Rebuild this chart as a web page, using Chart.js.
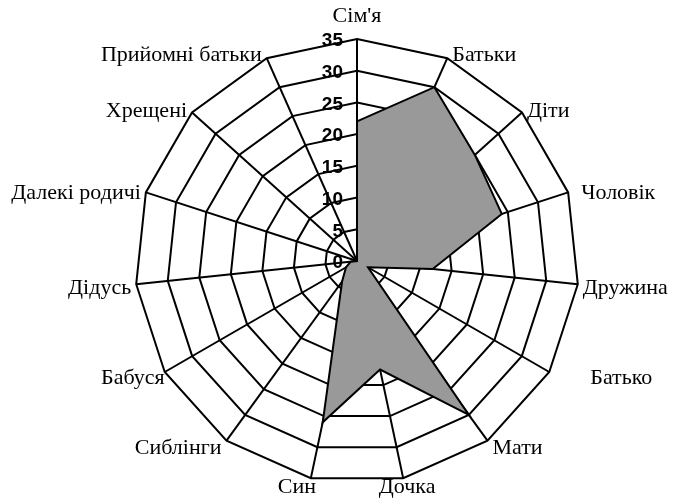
<!DOCTYPE html>
<html>
<head>
<meta charset="utf-8">
<script src="https://cdn.jsdelivr.net/npm/chart.js@4"></script>
<style>
  body { margin: 0; background: #fff; }
  #wrap { width: 676px; height: 499px; }
</style>
</head>
<body>
<div id="wrap"><canvas id="radarChart"></canvas></div>
<script>
var categories = ["Сім'я", "Батьки", "Діти", "Чоловік", "Дружина", "Батько", "Мати", "Дочка",
  "Син", "Сиблінги", "Бабуся", "Дідусь", "Далекі родичі", "Хрещені", "Прийомні батьки"];
var values = [22, 30, 25, 24, 12, 2, 30, 17.5, 26, 4, 2, 1, 0, 0, 0];
var tickValues = [0, 5, 10, 15, 20, 25, 30, 35];

// a few labels sit a bit off the plain rule in the original
var labelNudge = { 3: 8, 5: 36, 7: 4, 8: -14, 10: 5 };

// tick labels left of the top spoke, category labels placed Excel-style
var labelsPlugin = {
  id: "labelsPlugin",
  afterDatasetsDraw: function (chart) {
    var r = chart.scales.r;
    var ctx = chart.ctx;
    ctx.save();
    ctx.fillStyle = "#000";

    ctx.font = "bold 19px 'Liberation Sans', Arial, sans-serif";
    ctx.textAlign = "right";
    ctx.textBaseline = "middle";
    tickValues.forEach(function (v) {
      var p = r.getPointPositionForValue(0, v);
      ctx.fillText(String(v), p.x - 14, p.y + 2);
    });

    ctx.font = "22px 'Liberation Serif', 'Times New Roman', serif";
    ctx.textBaseline = "middle";
    categories.forEach(function (name, i) {
      var p = r.getPointPosition(i, r.drawingArea);
      var a = r.getIndexAngle(i);
      var s = Math.sin(a), c = Math.cos(a);
      var x = p.x, y = p.y + 3 - 6 * c;
      if (c > 0.99) {
        ctx.textAlign = "center";
        y = p.y - 23;
      } else if (Math.abs(s) < 0.25) {
        ctx.textAlign = "center";
      } else if (s > 0) {
        ctx.textAlign = "left";
        x += 5;
      } else {
        ctx.textAlign = "right";
        x -= 5;
      }
      x += labelNudge[i] || 0;
      ctx.fillText(name, x, y);
    });
    ctx.restore();
  }
};

var chart = new Chart(document.getElementById("radarChart"), {
  type: "radar",
  data: {
    labels: categories,
    datasets: [
      {
        data: values,
        backgroundColor: "#999999",
        borderColor: "#000",
        borderWidth: 2,
        pointRadius: 0,
        fill: true
      }
    ]
  },
  options: {
    responsive: true,
    maintainAspectRatio: false,
    animation: false,
    layout: { padding: { top: 39, bottom: 16, left: 38, right: 0 } },
    plugins: {
      legend: { display: false },
      tooltip: { enabled: false }
    },
    scales: {
      r: {
        min: 0,
        max: 35,
        ticks: { stepSize: 5, display: false },
        grid: { color: "#000", lineWidth: 2, circular: false },
        angleLines: { color: "#000", lineWidth: 2 },
        pointLabels: { display: false }
      }
    }
  },
  plugins: [labelsPlugin]
});
</script>
</body>
</html>
